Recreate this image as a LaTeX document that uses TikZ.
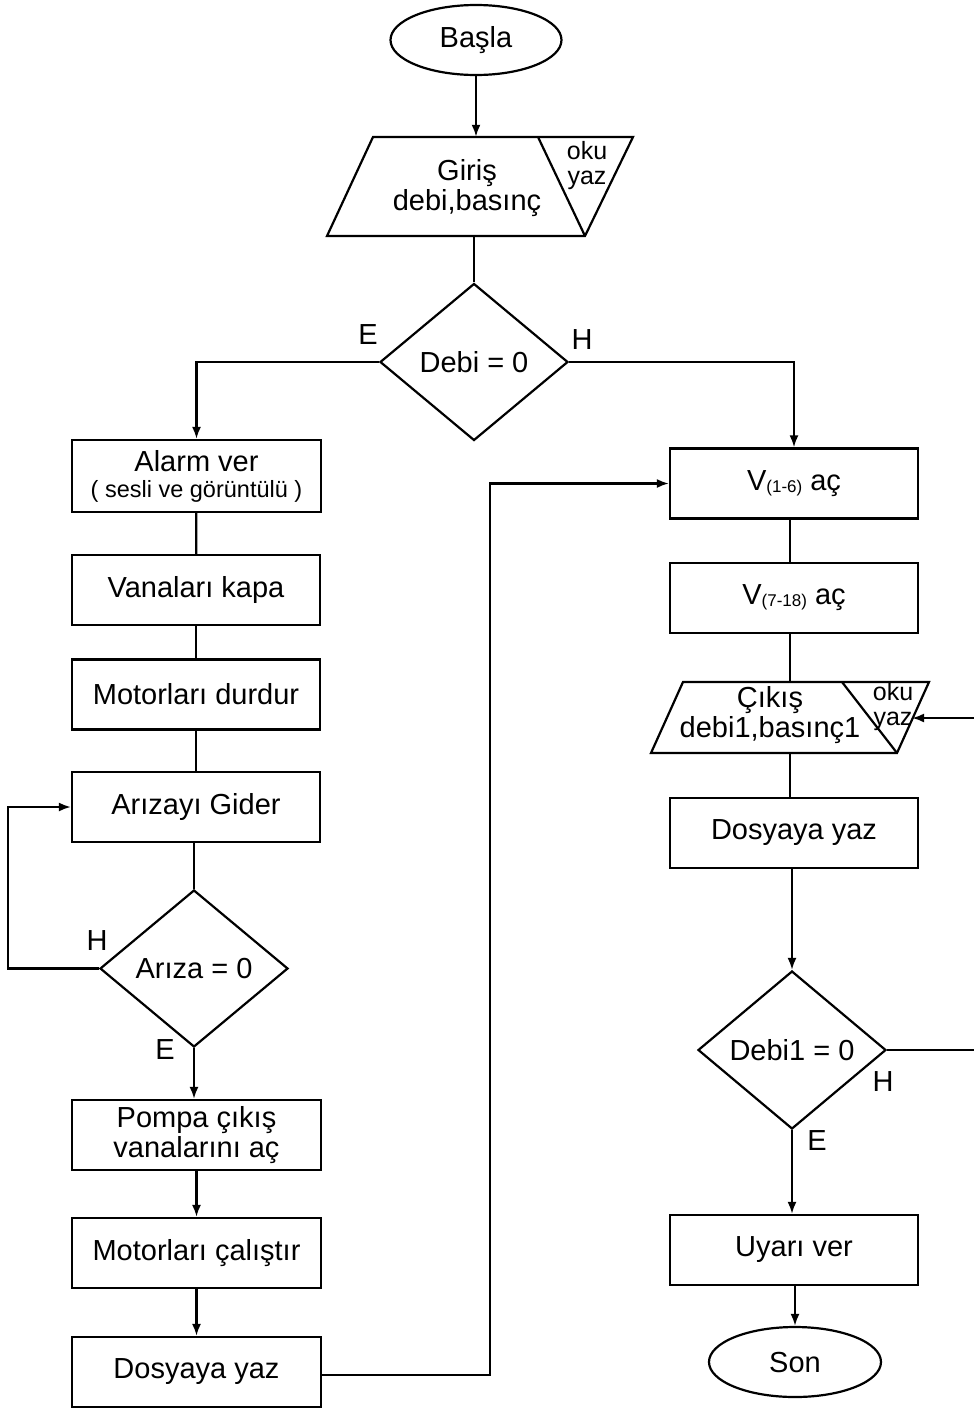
\documentclass[tikz,border=0pt]{standalone}
\usepackage{fontspec}
\setmainfont{Liberation Sans}
\usetikzlibrary{shapes.geometric,arrows.meta,calc}

\begin{document}
\begin{tikzpicture}[x=1pt,y=-1pt,
  every node/.style={font=\fontsize{29}{30}\selectfont},
  line/.style={line width=2.2pt},
  arr/.style={line, -{Latex[length=12pt,width=9pt]}},
  box/.style={draw, line width=2.2pt, minimum width=248pt, minimum height=70pt, inner sep=0pt, align=center},
  term/.style={draw, ellipse, line width=2.2pt, minimum width=171pt, minimum height=70pt, inner sep=0pt},
  dec/.style={draw, diamond, line width=2.2pt, inner sep=0pt, minimum width=188pt, minimum height=157pt},
  io/.style={minimum width=#1, inner sep=0pt},
  small/.style={font=\fontsize{25}{25}\selectfont, align=center},
]
\useasboundingbox (0,0) rectangle (974,1408);

\newcommand{\vsub}[1]{{\fontsize{17}{18}\selectfont\raisebox{-2pt}{(#1)}}}

% start and input
\node[term] (basla) at (476,40) {Başla};
\node[io=306pt, minimum height=99pt] (giris) at (480,186.5) {};
\draw[line] (373,137) -- (633,137) -- (585,236) -- (327,236) -- cycle;
\draw[line] (538,137) -- (585,236);
\node[align=center] (giristxt) at (467,188) {Giriş\\debi,basınç};
\node[small] (girisoku) at (587,166) {oku\\yaz};

\node[dec] (debi) at (474,362) {Debi = 0};
\node (debiE) at (368,335) {E};
\node (debiH) at (582,340) {H};

% left branch
\node[box, minimum width=249pt, minimum height=72pt] (alarm) at (196.5,476)
  {Alarm ver\\[-4pt]{\fontsize{23.5}{24}\selectfont ( sesli ve görüntülü )}};
\node[box] (vana) at (196,590) {Vanaları kapa};
\node[box] (durdur) at (196,694.5) {Motorları durdur};
\node[box] (gider) at (196,807) {Arızayı Gider};
\node[dec] (ariza) at (194,968.5) {Arıza = 0};
\node (arizaH) at (97,941) {H};
\node (arizaE) at (165,1050) {E};
\node[box, minimum width=249pt] (pompa) at (196.5,1135) {Pompa çıkış\\vanalarını aç};
\node[box, minimum width=249pt] (calistir) at (196.5,1253) {Motorları çalıştır};
\node[box, minimum width=249pt] (dosya1) at (196.5,1372) {Dosyaya yaz};

% right branch
\node[box] (v16) at (794,483.5) {V\vsub{1-6} aç};
\node[box] (v718) at (794,598) {V\vsub{7-18} aç};
\node[io=278pt, minimum height=71pt] (cikis) at (790,717.5) {};
\draw[line] (683,682) -- (929,682) -- (897,753) -- (651,753) -- cycle;
\draw[line] (842,682) -- (897,753);
\node[align=center] (cikistxt) at (770,715) {Çıkış\\debi1,basınç1};
\node[small] (cikisoku) at (893,707) {oku\\yaz};
\node[box] (dosya2) at (794,833) {Dosyaya yaz};
\node[dec, minimum height=158pt] (debi1) at (792,1050) {Debi1 = 0};
\node (debi1H) at (883,1082) {H};
\node (debi1E) at (817,1141) {E};
\node[box] (uyari) at (794,1250) {Uyarı ver};
\node[term, minimum width=172pt] (son) at (795,1362) {Son};

% connectors
\draw[arr] (basla) -- (basla |- giris.north);
\draw[line] (debi.north |- giris.south) -- (debi.north);
\draw[arr] (debi.west) -| (alarm.north);
\draw[arr] (debi.east) -| (v16.north);

\draw[line] (alarm) -- (vana);
\draw[line] (vana) -- (durdur);
\draw[line] (durdur) -- (gider);
\draw[line] (gider.south -| ariza.north) -- (ariza.north);
\coordinate (loopL) at (8,968);
\draw[arr] (ariza.west) -- (ariza.west -| loopL) |- (gider.west);
\draw[arr] (ariza.south) -- (ariza.south |- pompa.north);
\draw[arr] (pompa) -- (calistir);
\draw[arr] (calistir) -- (dosya1);
\coordinate (midX) at (490,1375);
\draw[arr] (dosya1.east |- midX) -- (midX) |- (v16.west);

\draw[line] (v16.south -| cikis.north) -- (v718.north -| cikis.north);
\draw[line] (v718.south -| cikis.north) -- (cikis.north);
\draw[line] (cikis.south) -- (cikis.south |- dosya2.north);
\draw[arr] (dosya2.south -| debi1.north) -- (debi1.north);
\draw[arr] (debi1.south) -- (debi1.south |- uyari.north);
\draw[arr] (uyari.south -| son.north) -- (son.north);
\coordinate (loopR) at (982,718);
\coordinate (yazIn) at (912,718);
\draw[arr] (debi1.east) -- (debi1.east -| loopR) -- (loopR) -- (yazIn);
\end{tikzpicture}
\end{document}
